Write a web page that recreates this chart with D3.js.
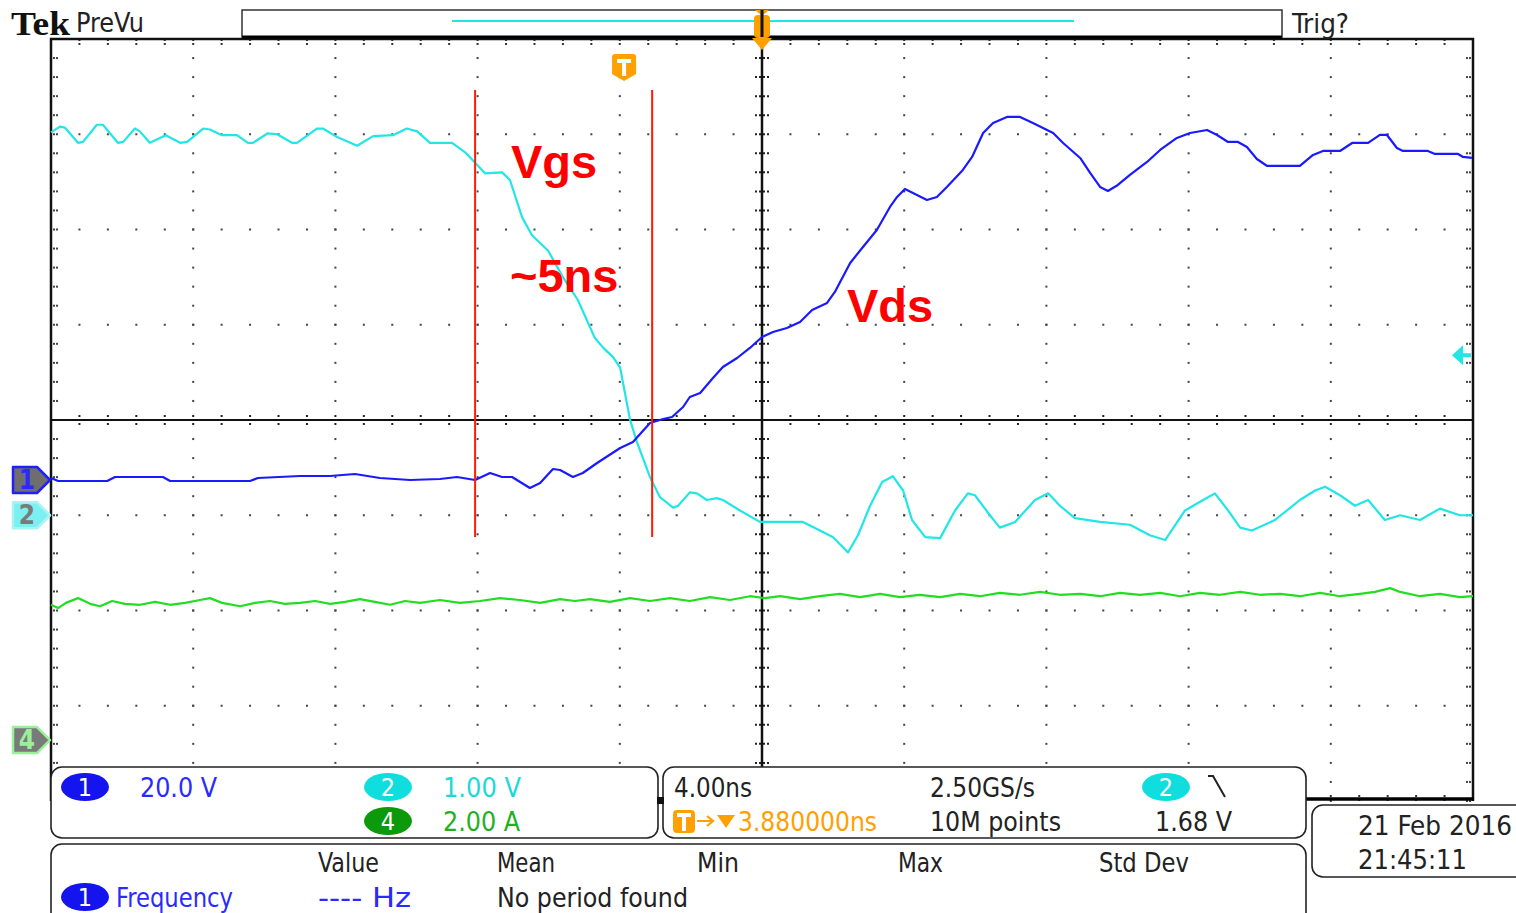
<!DOCTYPE html>
<html><head><meta charset="utf-8">
<script src="https://cdn.jsdelivr.net/npm/d3@7"></script>
<style>
html,body{margin:0;padding:0;background:#fff;overflow:hidden}
svg{display:block}
.ui{font-family:"DejaVu Sans Condensed","DejaVu Sans","Liberation Sans",sans-serif}
</style></head><body>
<svg id="scope" width="1516" height="913"></svg>
<script>
// ---- acquisition settings ----
const timePerDiv = 4;                     // ns / div
const ch1 = {voltsPerDiv: 20, posDiv: -0.63, color: "#1a1aff"};   // Vds
const ch2 = {voltsPerDiv: 1,  posDiv: -1.0,  color: "#22e6e6"};   // Vgs
const ch4 = {voltsPerDiv: 2,  posDiv: -3.36, color: "#22dd22"};   // Id
const triggerTimeNs = -3.88;
const triggerLevelV = 1.68;

// ---- waveforms: [time ns, value] ----
const vgs = [[-20,4.02],[-19.75,4.08],[-19.61,4.07],[-19.24,3.91],[-19.10,3.92],[-18.71,4.10],[-18.54,4.10],
  [-18.12,3.91],[-17.97,3.92],[-17.64,4.06],[-17.50,4.03],[-17.22,3.91],[-16.77,3.99],[-16.37,3.91],[-16.17,3.92],
  [-15.72,4.06],[-15.53,4.05],[-15.19,3.99],[-14.77,3.99],[-14.46,3.91],[-14.32,3.91],[-13.90,4.01],[-13.64,4.00],
  [-13.22,3.91],[-13.08,3.91],[-12.52,4.06],[-12.35,4.06],[-11.95,3.97],[-11.39,3.88],[-10.94,3.98],[-10.38,3.99],
  [-9.99,4.06],[-9.70,4.03],[-9.34,3.91],[-8.72,3.91],[-8.35,3.81],[-8.07,3.70],[-7.79,3.59],[-7.31,3.60],
  [-7.09,3.52],[-6.75,3.13],[-6.47,2.94],[-6.02,2.78],[-5.60,2.50],[-5.18,2.26],[-4.70,1.86],[-4.47,1.76],
  [-4.19,1.66],[-3.99,1.55],[-3.91,1.39],[-3.71,1.00],[-3.52,0.77],[-3.15,0.40],[-2.87,0.19],[-2.50,0.08],
  [-2.36,0.10],[-2.03,0.24],[-1.83,0.23],[-1.55,0.16],[-1.27,0.18],[-1.10,0.16],[-0.62,0.05],[-0.06,-0.07],
  [1.15,-0.07],[1.63,-0.16],[2.00,-0.23],[2.42,-0.39],[2.70,-0.21],[3.04,0.10],[3.38,0.35],[3.68,0.41],
  [3.97,0.26],[4.22,-0.05],[4.59,-0.23],[5.01,-0.24],[5.43,0.05],[5.79,0.23],[5.99,0.21],[6.41,0.00],
  [6.69,-0.13],[7.12,-0.07],[7.68,0.16],[8.05,0.23],[8.38,0.10],[8.80,-0.03],[9.51,-0.07],[10.35,-0.10],
  [10.91,-0.21],[11.34,-0.26],[11.90,0.05],[12.41,0.16],[12.74,0.23],[13.11,0.05],[13.45,-0.13],[13.78,-0.16],
  [14.43,-0.05],[15.13,0.16],[15.56,0.26],[15.84,0.30],[16.26,0.21],[16.68,0.10],[17.05,0.16],[17.52,-0.05],
  [17.95,0.00],[18.51,-0.05],[19.07,0.07],[19.63,0.00],[20,0.00]];

const vds = [[-20,0.42],[-19.80,-0.21],[-18.42,-0.21],[-18.20,0.63],[-16.85,0.63],[-16.65,-0.21],[-14.40,-0.21],
  [-14.18,0.42],[-13.00,0.84],[-12.15,0.84],[-11.45,1.26],[-10.75,0.42],[-9.90,0.00],[-9.06,0.21],[-8.58,0.63],
  [-8.07,0.00],[-7.65,1.47],[-7.31,0.63],[-7.03,0.63],[-6.53,-1.68],[-6.24,-0.63],[-5.88,2.31],[-5.68,2.10],
  [-5.32,0.63],[-5.04,1.47],[-4.64,3.57],[-3.99,6.72],[-3.63,7.98],[-3.15,11.97],[-2.78,12.81],[-2.53,13.23],
  [-2.22,15.33],[-2.03,17.43],[-1.74,18.27],[-1.38,21.42],[-1.10,23.73],[-0.70,25.62],[-0.34,27.72],[0,30.03],
  [0.31,31.08],[0.70,31.92],[1.07,33.18],[1.41,35.70],[1.83,37.17],[2.05,39.48],[2.48,45.57],[2.84,48.93],
  [3.23,52.50],[3.60,57.33],[3.80,59.43],[4.02,61.11],[4.36,59.85],[4.64,58.80],[4.92,59.43],[5.20,61.53],
  [5.65,65.10],[5.91,67.83],[6.22,72.87],[6.50,74.97],[6.89,76.23],[7.26,76.23],[7.62,74.97],[8.19,72.87],
  [8.47,70.77],[8.95,67.62],[9.23,64.47],[9.51,61.53],[9.73,60.69],[10.01,61.95],[10.35,64.05],[10.83,66.78],
  [11.20,69.30],[11.67,71.82],[12.04,72.87],[12.52,73.50],[12.80,72.45],[13.11,70.98],[13.39,70.98],[13.64,69.93],
  [13.92,67.41],[14.21,65.94],[15.13,65.94],[15.50,68.25],[15.78,69.09],[16.26,69.09],[16.60,70.77],[17.05,70.77],
  [17.38,72.45],[17.58,72.45],[17.86,69.72],[18.03,69.09],[18.73,69.09],[18.93,68.46],[19.58,68.46],[19.72,67.83],
  [19.97,67.62]];

const id = [[-20,2.84],[-19.80,2.77],[-19.58,2.88],[-19.24,2.98],[-18.90,2.86],[-18.62,2.81],[-18.28,2.92],
  [-17.92,2.86],[-17.50,2.84],[-17.07,2.90],[-16.65,2.84],[-16.23,2.88],[-15.81,2.94],[-15.53,2.98],[-15.19,2.88],
  [-14.68,2.81],[-14.26,2.88],[-13.84,2.92],[-13.42,2.86],[-13.00,2.88],[-12.57,2.92],[-12.15,2.86],[-11.73,2.90],
  [-11.31,2.96],[-10.89,2.90],[-10.46,2.84],[-10.04,2.92],[-9.62,2.88],[-9.06,2.94],[-8.50,2.88],[-7.93,2.92],
  [-7.37,2.98],[-6.81,2.94],[-6.24,2.88],[-5.68,2.96],[-5.26,2.92],[-4.84,2.96],[-4.28,2.90],[-3.71,2.98],
  [-3.15,2.92],[-2.59,2.98],[-2.03,2.92],[-1.46,3.00],[-0.90,2.94],[-0.34,3.02],[0.08,2.98],[0.51,3.02],
  [1.07,2.96],[1.63,3.02],[2.19,3.07],[2.76,3.00],[3.32,3.07],[3.88,3.00],[4.44,3.05],[5.01,3.00],[5.57,3.07],
  [6.13,3.02],[6.69,3.09],[7.26,3.05],[7.82,3.11],[8.38,3.05],[8.95,3.07],[9.51,3.02],[10.07,3.09],[10.63,3.05],
  [11.20,3.09],[11.76,3.02],[12.32,3.09],[12.88,3.05],[13.45,3.11],[14.01,3.05],[14.57,3.07],[15.13,3.02],
  [15.70,3.09],[16.26,3.02],[16.82,3.07],[17.24,3.11],[17.67,3.19],[17.95,3.11],[18.51,3.02],[19.07,3.07],
  [19.63,3.00],[20,3.02]];

// ---- readout texts ----
const dateText = ["21 Feb  2016", "21:45:11"];
const measHeaders = ["Value", "Mean", "Min", "Max", "Std Dev"];

const svg = d3.select("#scope");
const L = 51, R = 1473, T = 39, B = 801;

const x = d3.scaleLinear().domain([-5 * timePerDiv, 5 * timePerDiv]).range([L, R]);
const div = d3.scaleLinear().domain([-4, 4]).range([B, T]);
const chY = c => d3.scaleLinear()
  .domain([(-4 - c.posDiv) * c.voltsPerDiv, (4 - c.posDiv) * c.voltsPerDiv]).range([B, T]);
const y1 = chY(ch1), y2 = chY(ch2), y4 = chY(ch4);

const grid = svg.append("g");
const dotColor = "#444";
const dot = (gx, gy) => grid.append("rect").attr("x", gx - 1).attr("y", gy - 1)
  .attr("width", 2).attr("height", 2).attr("fill", dotColor);

// dotted graticule lines
const minorT = d3.range(0, 51).map(i => -20 + i * 0.8);
const minorD = d3.range(0, 41).map(i => -4 + i * 0.2);
d3.range(-20, 21, 4).forEach(t => {
  if (t === 0 || t === -20 || t === 20) return;
  minorD.forEach(d => dot(x(t), div(d)));
});
d3.range(-4, 5, 1).forEach(d => {
  if (d === 0 || d === -4 || d === 4) return;
  minorT.forEach(t => dot(x(t), div(d)));
});
// border ticks
minorD.forEach(d => { dot(L + 3, div(d)); dot(L + 6, div(d)); dot(R - 3, div(d)); dot(R - 6, div(d)); });
minorT.forEach(t => {
  grid.append("line").attr("x1", x(t)).attr("x2", x(t)).attr("y1", T).attr("y2", T + 6)
    .attr("stroke", "#333").attr("stroke-width", 2).attr("stroke-dasharray", "2,2");
  grid.append("line").attr("x1", x(t)).attr("x2", x(t)).attr("y1", B).attr("y2", B - 6)
    .attr("stroke", "#333").attr("stroke-width", 2).attr("stroke-dasharray", "2,2");
});
// centre cross with minor ticks
minorT.forEach(t => grid.append("line").attr("x1", x(t)).attr("x2", x(t))
  .attr("y1", div(0) - 5).attr("y2", div(0) + 5).attr("stroke", "#222").attr("stroke-width", 2)
  .attr("stroke-dasharray", "2,2"));
minorD.forEach(d => grid.append("line").attr("x1", x(0) - 7).attr("x2", x(0) + 7)
  .attr("y1", div(d)).attr("y2", div(d)).attr("stroke", "#222").attr("stroke-width", 2)
  .attr("stroke-dasharray", "2,2"));
grid.append("line").attr("x1", L).attr("x2", R).attr("y1", div(0)).attr("y2", div(0))
  .attr("stroke", "#111").attr("stroke-width", 2);
grid.append("line").attr("x1", x(0)).attr("x2", x(0)).attr("y1", T).attr("y2", B)
  .attr("stroke", "#111").attr("stroke-width", 2.5);
// frame
grid.append("path").attr("d", `M${L},${B} V${T} H${R} V${B}`).attr("fill", "none")
  .attr("stroke", "#111").attr("stroke-width", 2.5);
grid.append("line").attr("x1", 1300).attr("x2", R + 1).attr("y1", B - 2).attr("y2", B - 2)
  .attr("stroke", "#000").attr("stroke-width", 3.5);

// ---- traces ----
const line = ys => d3.line().x(d => x(d[0])).y(d => ys(d[1]));
const traces = svg.append("g").attr("fill", "none").attr("stroke-width", 2.2).attr("stroke-linejoin", "round");
traces.append("path").datum(id).attr("d", line(y4)).attr("stroke", ch4.color);
traces.append("path").datum(vgs).attr("d", line(y2)).attr("stroke", ch2.color);
traces.append("path").datum(vds).attr("d", line(y1)).attr("stroke", ch1.color);

// ---- cursors / annotations ----
const red = "#ff1a00";
[-8.07, -3.09].forEach(t => svg.append("line").attr("x1", x(t)).attr("x2", x(t))
  .attr("y1", 90).attr("y2", 537).attr("stroke", red).attr("stroke-width", 2));
const ann = svg.append("g").attr("fill", "#ff0000").attr("font-family", "'Liberation Sans',Arial,sans-serif")
  .attr("font-weight", "bold").attr("font-size", 47);
ann.append("text").attr("x", 511).attr("y", 178).text("Vgs");
ann.append("text").attr("x", 510).attr("y", 292).text("~5ns");
ann.append("text").attr("x", 847).attr("y", 322).text("Vds");

// ---- channel ground markers ----
const marker = (yy, fill, stroke, label, textColor) => {
  const gm = svg.append("g");
  gm.append("path").attr("d", `M13,${yy - 13} H37 L50,${yy} L37,${yy + 13} H13 Z`)
    .attr("fill", fill).attr("stroke", stroke).attr("stroke-width", 2.5).attr("stroke-linejoin", "round");
  gm.append("text").attr("class", "ui").attr("x", 27).attr("y", yy + 9).attr("text-anchor", "middle")
    .attr("font-size", 26).attr("font-weight", "bold").attr("fill", textColor).text(label);
};
marker(y1(0), "#6e6e6e", "#2020ff", "1", "#2a2aff");
marker(y2(0), "#7cf0f0", "#a8f4f4", "2", "#7a7a7a");
marker(y4(0), "#7a7a7a", "#9af09a", "4", "#9af09a");

// trigger level arrow (right edge)
const ty = y2(triggerLevelV);
svg.append("path").attr("d", `M1452,${ty} L1463,${ty - 10} V${ty - 2} H1471 V${ty + 2} H1463 V${ty + 10} Z`)
  .attr("fill", ch2.color);

// trigger position marker
const orange = "#ffa000";
const tx = x(triggerTimeNs);
svg.append("path").attr("d", `M${tx - 12},57 Q${tx - 12},54 ${tx - 9},54 H${tx + 9} Q${tx + 12},54 ${tx + 12},57 V74 L${tx},81 L${tx - 12},74 Z`)
  .attr("fill", orange);
svg.append("path").attr("d", `M${tx - 7},59 H${tx + 7} V63 H${tx + 2} V76 H${tx - 2} V63 H${tx - 7} Z`).attr("fill", "#fff");

// ---- header ----
svg.append("text").attr("x", 11).attr("y", 35).attr("font-family", "'Liberation Serif',serif")
  .attr("font-weight", "bold").attr("font-size", 34).attr("fill", "#111").attr("textLength", 59)
  .attr("lengthAdjust", "spacingAndGlyphs").text("Tek");
svg.append("text").attr("class", "ui").attr("x", 76).attr("y", 32).attr("font-size", 26).attr("fill", "#222")
  .attr("textLength", 68).attr("lengthAdjust", "spacingAndGlyphs").text("PreVu");
svg.append("text").attr("class", "ui").attr("x", 1292).attr("y", 33).attr("font-size", 26).attr("fill", "#222")
  .attr("textLength", 57).attr("lengthAdjust", "spacingAndGlyphs").text("Trig?");
// record overview
svg.append("rect").attr("x", 242).attr("y", 10).attr("width", 1040).attr("height", 27)
  .attr("fill", "#fff").attr("stroke", "#333").attr("stroke-width", 1.5);
svg.append("line").attr("x1", 242).attr("x2", 1282).attr("y1", 37).attr("y2", 37).attr("stroke", "#000").attr("stroke-width", 3);
svg.append("line").attr("x1", 452).attr("x2", 1074).attr("y1", 21).attr("y2", 21).attr("stroke", ch2.color).attr("stroke-width", 2);
svg.append("path").attr("d", "M755,10 H769 L762,16 Z").attr("fill", orange);
svg.append("rect").attr("x", 754).attr("y", 15).attr("width", 16).attr("height", 23).attr("rx", 4).attr("fill", orange);
svg.append("path").attr("d", "M752,38 H772 L762,50 Z").attr("fill", orange);
svg.append("line").attr("x1", 762).attr("x2", 762).attr("y1", 10).attr("y2", 37).attr("stroke", "#111").attr("stroke-width", 3);

// ---- readout panels ----
const panels = svg.append("g").attr("fill", "#fff").attr("stroke", "#222").attr("stroke-width", 1.6);
panels.append("rect").attr("x", 51).attr("y", 767).attr("width", 607).attr("height", 71).attr("rx", 11);
panels.append("rect").attr("x", 663).attr("y", 767).attr("width", 643).attr("height", 71).attr("rx", 11);
panels.append("rect").attr("x", 51).attr("y", 844).attr("width", 1255).attr("height", 90).attr("rx", 11);
panels.append("rect").attr("x", 1312).attr("y", 805).attr("width", 220).attr("height", 72).attr("rx", 11);
svg.append("rect").attr("x", 657).attr("y", 797).attr("width", 7).attr("height", 7).attr("fill", "#111");

const badge = (cx, cy, fill, label) => {
  svg.append("ellipse").attr("cx", cx).attr("cy", cy).attr("rx", 24).attr("ry", 14).attr("fill", fill);
  svg.append("text").attr("class", "ui").attr("x", cx).attr("y", cy + 9).attr("text-anchor", "middle")
    .attr("font-size", 25).attr("fill", "#fff").text(label);
};
const txt = (tx0, ty0, s, w, color) => svg.append("text").attr("class", "ui").attr("x", tx0).attr("y", ty0)
  .attr("font-size", 27).attr("fill", color || "#222").attr("textLength", w)
  .attr("lengthAdjust", "spacingAndGlyphs").text(s);

badge(85, 787, "#1414ee", "1");
txt(140, 797, `${ch1.voltsPerDiv.toFixed(1)} V`, 77, "#2a2aff");
badge(388, 787, "#10dede", "2");
txt(443, 797, `${ch2.voltsPerDiv.toFixed(2)} V`, 78, "#1ed8d8");
badge(388, 821, "#0c9a0c", "4");
txt(443, 831, `${ch4.voltsPerDiv.toFixed(2)} A`, 77, "#22b022");

txt(674, 797, `${timePerDiv.toFixed(2)}ns`, 78);
txt(930, 797, "2.50GS/s", 105);
txt(930, 831, "10M points", 131);
badge(1166, 787, "#10dede", "2");
svg.append("path").attr("d", "M1208,776 H1213 L1225,797").attr("fill", "none").attr("stroke", "#222").attr("stroke-width", 2);
txt(1155, 831, `${triggerLevelV.toFixed(2)} V`, 77);
// trigger position readout
svg.append("rect").attr("x", 673).attr("y", 810).attr("width", 22).attr("height", 23).attr("rx", 4).attr("fill", orange);
svg.append("path").attr("d", "M677,813 H691 V817 H686 V831 H682 V817 H677 Z").attr("fill", "#fff");
svg.append("path").attr("d", "M697,821 H712 M707,816 L713,821 L707,826").attr("fill", "none").attr("stroke", orange).attr("stroke-width", 2.2);
svg.append("path").attr("d", "M717,815 H735 L726,828 Z").attr("fill", orange);
txt(738, 831, `${Math.abs(triggerTimeNs).toFixed(6)}ns`, 139, orange);

// measurement table
const hdrX = [318, 497, 697, 898, 1099], hdrW = [61, 58, 42, 45, 90];
measHeaders.forEach((h, i) => txt(hdrX[i], 872, h, hdrW[i]));
badge(85, 897, "#1414ee", "1");
txt(116, 907, "Frequency", 117, "#2a2aff");
txt(318, 907, "---- Hz", 93, "#2a2aff");
txt(497, 907, "No period found", 191);

// date / time
txt(1358, 835, dateText[0], 154);
txt(1358, 869, dateText[1], 109);
</script>
</body></html>
